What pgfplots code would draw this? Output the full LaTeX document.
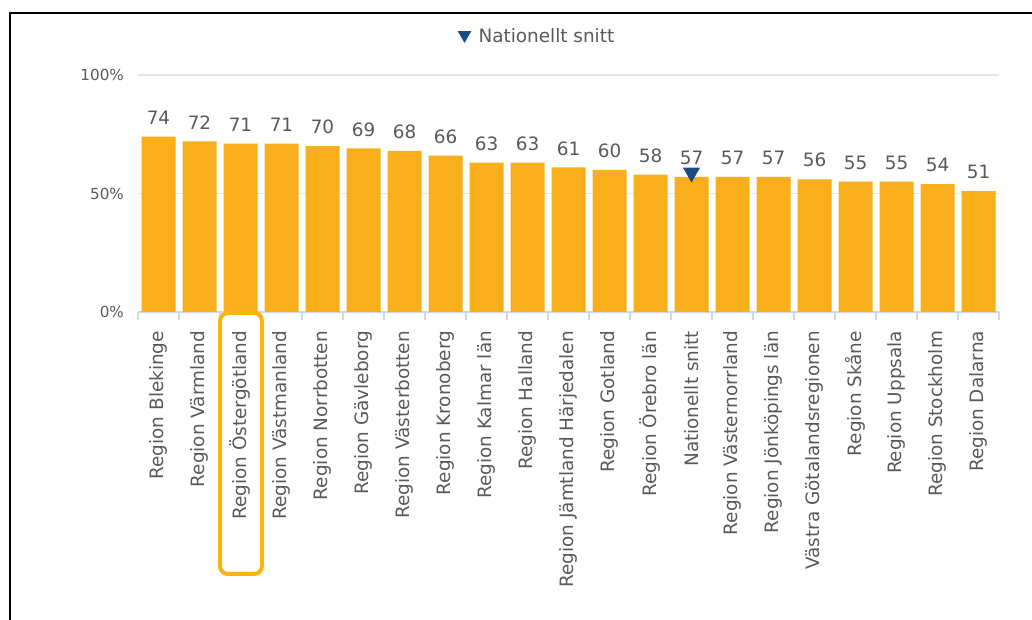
\documentclass[border=0pt]{standalone}
\usepackage{fontspec}
\setmainfont{DejaVu Sans}
\usepackage{pgfplots}
\pgfplotsset{compat=1.18}

\definecolor{barorange}{HTML}{F9AE1B}
\definecolor{txtgray}{HTML}{595959}
\definecolor{navy}{HTML}{1B4A87}
\definecolor{gridgray}{HTML}{E6E6E6}
\definecolor{tickblue}{HTML}{CCD9E8}
\definecolor{hilite}{HTML}{FBB40F}

\begin{document}
\begin{tikzpicture}
% 1 px of the reference = 0.5pt
\useasboundingbox (0,0) rectangle (516pt,310pt);
\draw[line width=1pt, black] (5pt,0pt) -- (5pt,303.5pt) -- (516pt,303.5pt);

\begin{axis}[
    at={(69pt,154pt)}, anchor=south west,
    scale only axis,
    width=430.5pt, height=118.5pt,
    xmin=-0.5, xmax=20.5,
    ymin=0, ymax=100,
    axis line style={draw=none},
    major tick length=0pt,
    xtick pos=bottom,
    ytick pos=left,
    /pgf/number format/assume math mode=true,
    xtick={0,...,20},
    xticklabels={Region Blekinge, Region Värmland, Region Östergötland, Region Västmanland,
        Region Norrbotten, Region Gävleborg, Region Västerbotten, Region Kronoberg,
        Region Kalmar län, Region Halland, Region Jämtland Härjedalen, Region Gotland,
        Region Örebro län, Nationellt snitt, Region Västernorrland, Region Jönköpings län,
        Västra Götalandsregionen, Region Skåne, Region Uppsala, Region Stockholm, Region Dalarna},
    xticklabel style={rotate=90, anchor=east, font=\fontsize{9.2}{10}\selectfont, text=txtgray},
    xticklabel shift=6pt,
    extra x ticks={-0.5,0.5,...,20.5},
    extra x tick labels={},
    extra x tick style={major tick length=4pt, tick align=outside, xtick pos=bottom,
        tick style={draw=tickblue, line width=0.6pt}},
    ytick={50,100},
    yticklabels={50\%,100\%},
    extra y ticks={0},
    extra y tick labels={0\%},
    extra y tick style={grid style={draw=tickblue, line width=0.6pt}},
    yticklabel style={font=\fontsize{7.6}{9}\selectfont, text=txtgray},
    yticklabel shift=3.5pt,
    ymajorgrids,
    grid style={draw=gridgray, line width=0.6pt},
    legend style={at={(0.465,1.16)}, anchor=center, draw=none, fill=none,
        font=\fontsize{9.2}{10}\selectfont, text=txtgray,
        /tikz/every odd column/.append style={column sep=2pt}},
    legend cell align=left,
]
\addplot[ybar, bar width=17pt, fill=barorange, draw=none, forget plot,
    nodes near coords,
    nodes near coords style={font=\fontsize{9.2}{10}\selectfont, text=txtgray, yshift=2.5pt}]
coordinates {
    (0,74) (1,72) (2,71) (3,71) (4,70) (5,69) (6,68) (7,66) (8,63) (9,63) (10,61)
    (11,60) (12,58) (13,57) (14,57) (15,57) (16,56) (17,55) (18,55) (19,54) (20,51)
};
\addplot[only marks, mark=triangle*, mark size=4.5pt, mark options={rotate=180, fill=navy, draw=navy},
    legend image post style={mark size=3.5pt, yshift=1pt}]
coordinates {(13,58.8)};
\addlegendentry{Nationellt snitt}
\end{axis}

\draw[line width=2pt, hilite, rounded corners=4pt] (110pt,23pt) rectangle (131pt,153.5pt);
\end{tikzpicture}
\end{document}
